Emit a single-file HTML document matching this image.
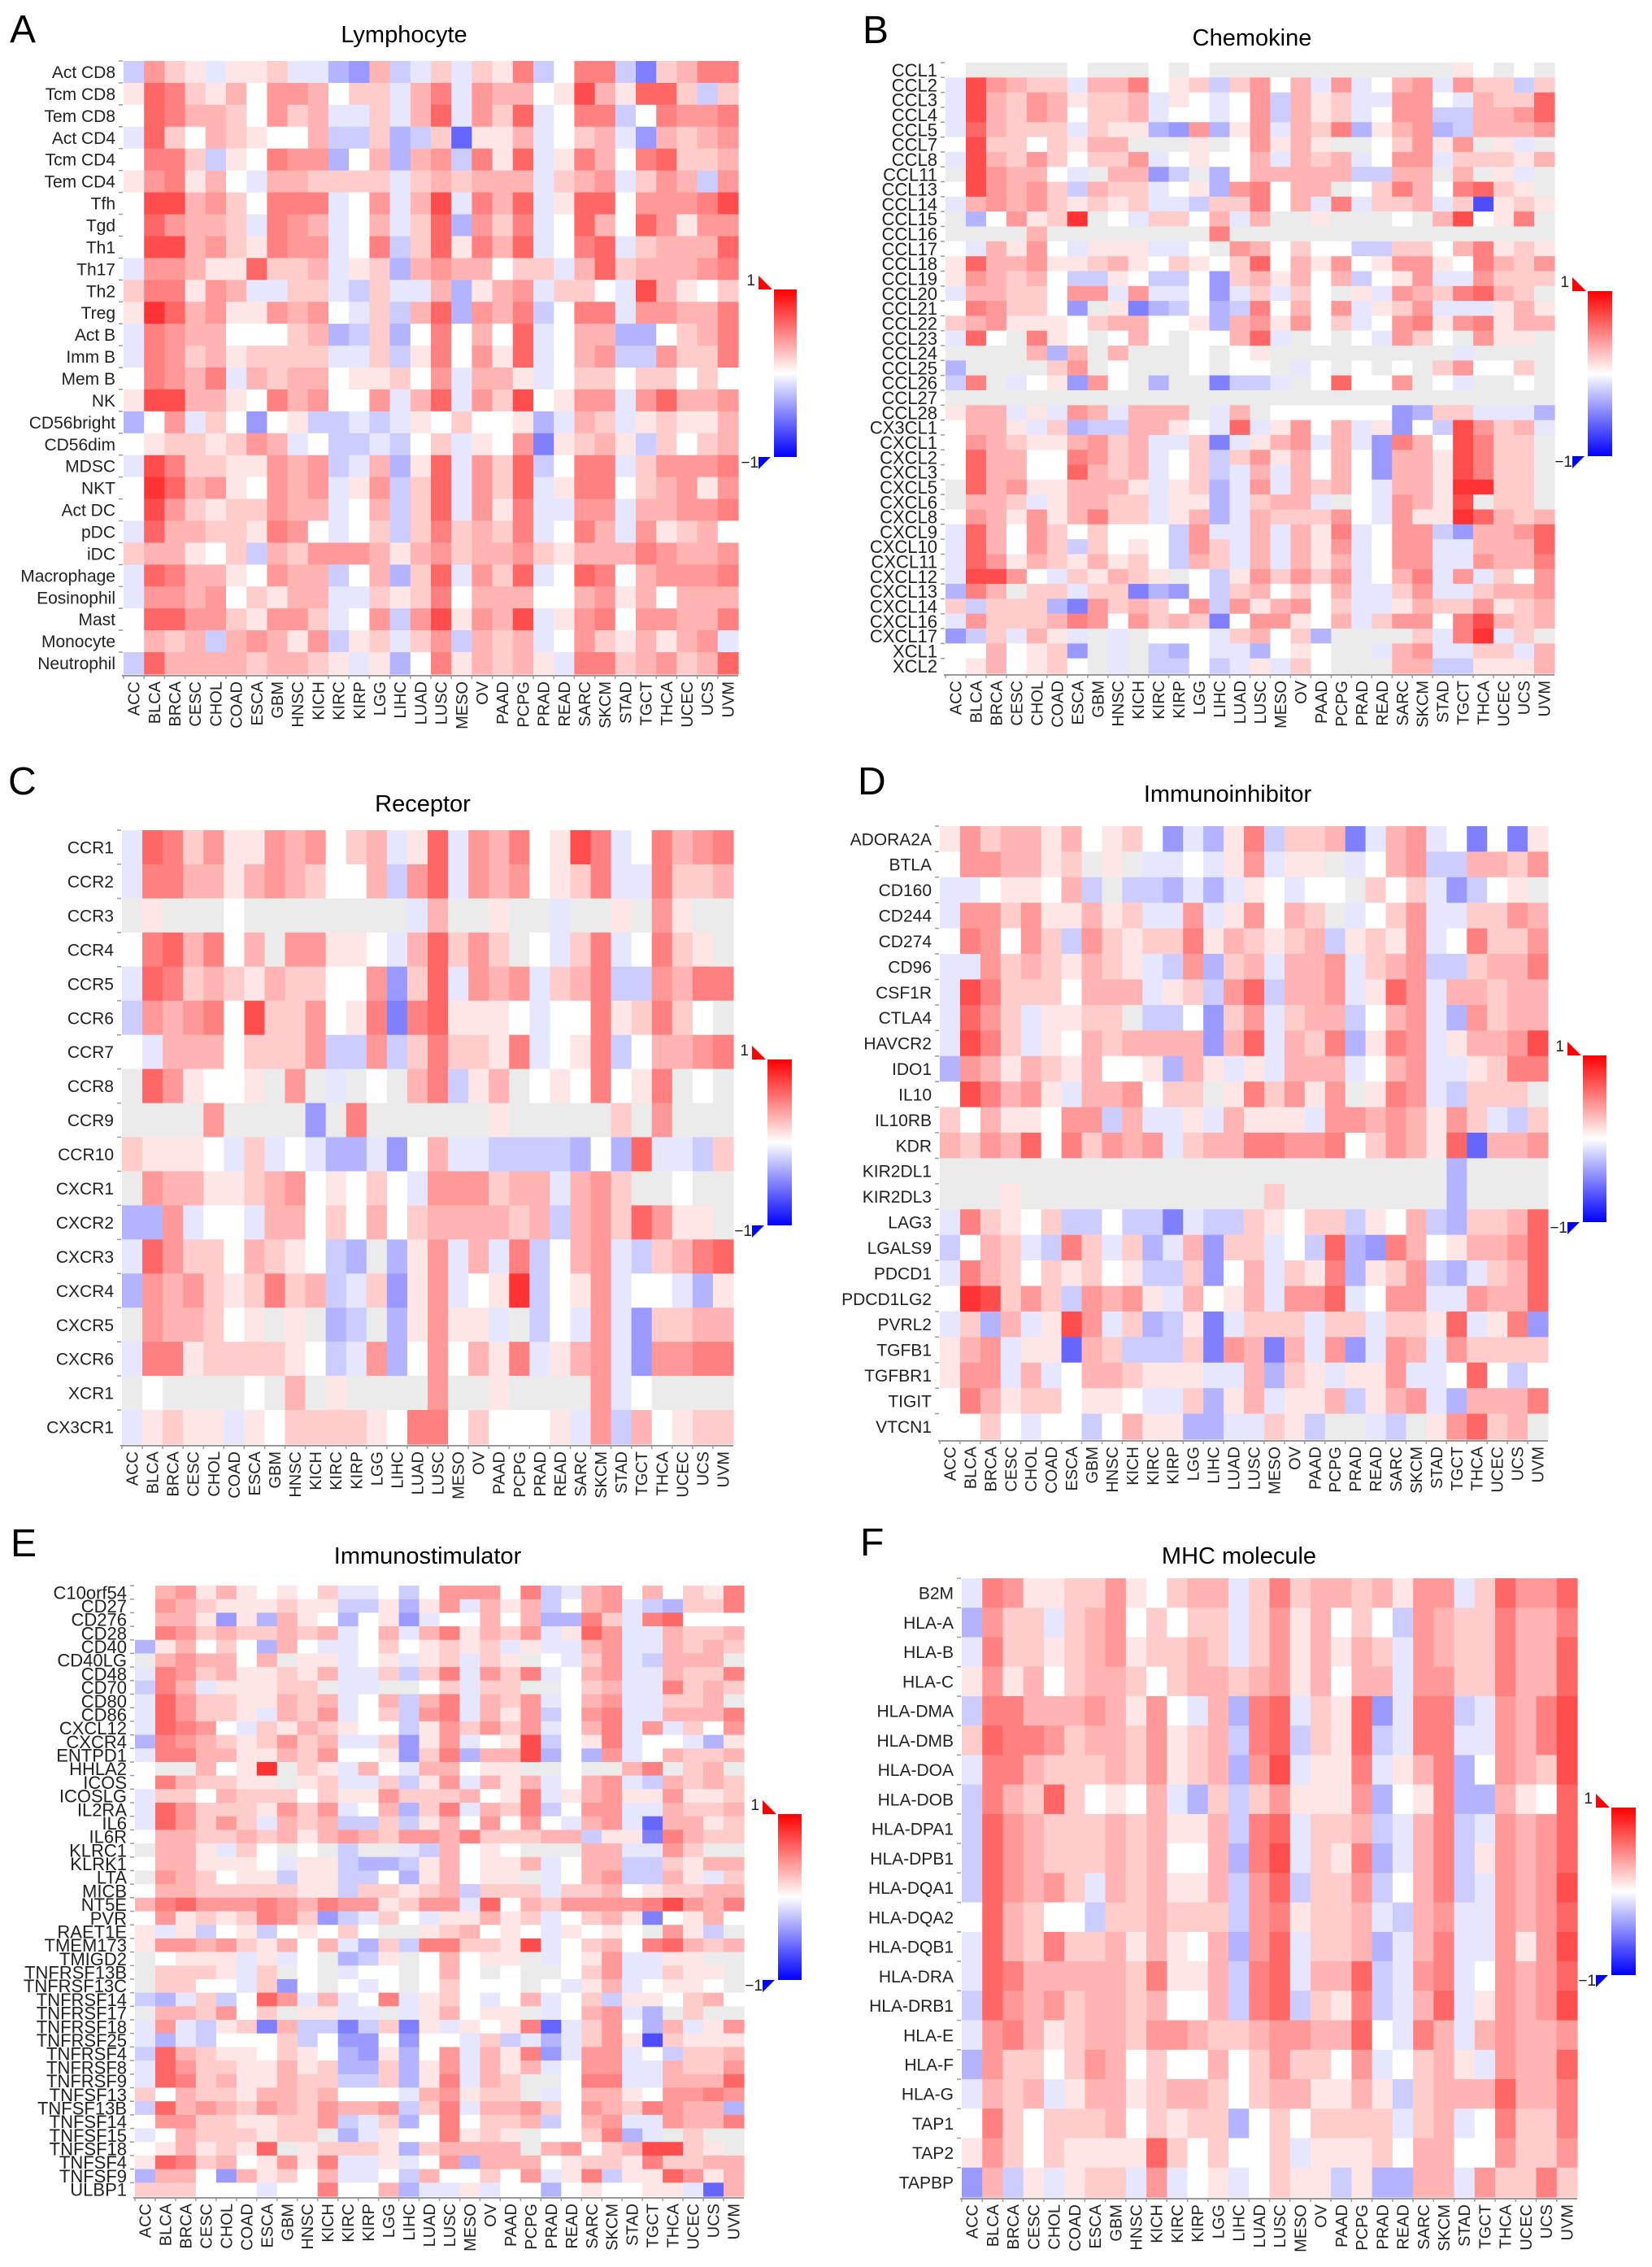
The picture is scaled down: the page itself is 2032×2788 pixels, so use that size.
<!DOCTYPE html>
<html><head><meta charset="utf-8"><title>Immune heatmaps</title>
<style>
html,body{margin:0;padding:0;background:#fff;}
svg{display:block;font-family:"Liberation Sans",Arial,sans-serif;}
</style></head>
<body>
<svg id="fig" width="2032" height="2788" viewBox="0 0 2032 2788" xmlns="http://www.w3.org/2000/svg">
<defs>
<linearGradient id="cbgrad" x1="0" y1="0" x2="0" y2="1">
<stop offset="0" stop-color="#ff0000"/><stop offset="0.5" stop-color="#ffffff"/><stop offset="1" stop-color="#0000ff"/>
</linearGradient>
</defs>
<text x="12" y="52" font-size="48">A</text>
<text x="1061" y="53" font-size="48">B</text>
<text x="10" y="977" font-size="48">C</text>
<text x="1055" y="977" font-size="48">D</text>
<text x="13" y="1914" font-size="48">E</text>
<text x="1058" y="1913" font-size="48">F</text>
<text x="497" y="52" font-size="29" text-anchor="middle">Lymphocyte</text>
<text x="1540" y="56" font-size="29" text-anchor="middle">Chemokine</text>
<text x="520" y="998" font-size="29" text-anchor="middle">Receptor</text>
<text x="1510" y="986" font-size="29" text-anchor="middle">Immunoinhibitor</text>
<text x="526" y="1923" font-size="29" text-anchor="middle">Immunostimulator</text>
<text x="1524" y="1923" font-size="29" text-anchor="middle">MHC molecule</text>
</svg>
<script>
const N = null;
const cancers = ["ACC","BLCA","BRCA","CESC","CHOL","COAD","ESCA","GBM","HNSC","KICH","KIRC","KIRP","LGG","LIHC","LUAD","LUSC","MESO","OV","PAAD","PCPG","PRAD","READ","SARC","SKCM","STAD","TGCT","THCA","UCEC","UCS","UVM"];

const rowsA = ["Act CD8","Tcm CD8","Tem CD8","Act CD4","Tcm CD4","Tem CD4","Tfh","Tgd","Th1","Th17","Th2","Treg","Act B","Imm B","Mem B","NK","CD56bright","CD56dim","MDSC","NKT","Act DC","pDC","iDC","Macrophage","Eosinophil","Mast","Monocyte","Neutrophil"];
const valsA = [
[-2,4,2,1,-1,1,1,2,-1,-1,-3,-4,3,-2,-1,2,-1,2,1,5,-2,0,5,5,-2,-5,2,3,5,5],
[1,6,5,2,1,3,0,4,4,3,0,2,2,-1,3,5,-1,4,3,3,0,1,7,3,1,6,6,2,-2,2],
[0,6,5,3,3,2,0,4,2,3,-1,-1,2,-1,3,6,-1,4,2,6,-1,0,5,5,-2,0,5,4,4,5],
[-1,6,2,0,3,2,1,0,0,3,-2,-2,2,-3,-2,2,-6,1,1,3,-1,0,2,3,-1,-4,3,2,3,4],
[0,5,5,2,-2,1,0,5,4,4,-3,0,3,-3,3,4,-2,5,1,6,-1,1,5,3,0,5,6,2,2,3],
[1,4,5,1,3,0,-1,3,3,2,2,2,2,-1,2,3,2,3,3,3,-1,2,3,4,-1,2,4,3,-2,4],
[0,7,7,3,4,2,0,5,5,5,-1,0,4,-1,3,7,-1,5,3,6,-1,1,6,6,0,4,4,4,5,7],
[0,6,4,3,3,2,-1,5,4,3,-1,0,3,-1,2,6,-3,4,2,5,-1,0,6,3,0,6,4,1,4,4],
[0,7,7,3,4,2,1,5,4,4,-1,0,5,-2,2,6,1,5,3,6,-1,0,5,6,-1,2,3,3,3,6],
[-1,4,4,3,1,1,6,2,2,3,-1,1,2,-3,3,4,3,3,0,2,2,-1,3,6,2,3,3,3,4,5],
[2,5,5,1,4,3,-1,-1,2,2,-1,-2,2,-1,-1,3,-3,1,3,4,-1,2,2,0,-1,7,3,1,0,2],
[1,8,6,3,4,1,1,4,3,4,0,-1,2,-2,3,6,-3,4,3,5,-2,0,5,5,-1,4,4,3,3,5],
[-1,5,4,3,3,0,0,0,2,3,-3,-2,2,-3,0,5,0,3,0,6,-1,0,3,3,-3,-3,0,2,3,5],
[-1,5,4,2,3,1,2,2,2,2,-1,-1,2,-2,1,5,0,4,1,6,-1,0,3,4,-2,-2,4,2,2,5],
[0,5,4,3,5,-1,3,2,3,3,0,1,1,2,0,4,-1,3,3,1,-1,0,2,2,0,2,2,0,2,0],
[1,7,7,3,3,1,0,5,3,4,0,0,4,-1,3,6,-1,4,2,7,0,1,4,4,-1,4,6,3,3,4],
[-3,0,4,-1,2,0,-4,0,1,-2,-2,-1,-2,-1,1,0,2,0,0,1,-3,-1,3,2,-1,1,2,1,1,3],
[0,1,2,2,1,2,4,3,-1,0,-2,-2,-1,-2,0,2,-1,1,0,4,-5,1,2,3,1,-2,2,0,2,3],
[-1,7,5,2,2,1,1,4,3,4,-2,-1,3,-3,1,6,-1,4,2,6,-2,0,5,5,-1,2,4,4,4,5],
[0,8,6,3,4,1,0,4,3,4,-1,1,4,-2,2,6,-1,4,2,6,-1,1,5,5,0,2,3,4,1,4],
[0,7,4,2,1,2,2,4,3,3,-1,0,3,-2,2,6,-1,4,1,5,-1,-1,4,4,-1,3,3,4,4,5],
[-1,6,3,3,2,2,1,5,4,0,-1,0,2,-2,2,5,2,3,2,5,-1,0,5,3,-1,4,1,2,3,0],
[2,3,3,1,0,2,-2,3,2,4,4,4,3,1,3,4,2,3,3,4,2,1,3,3,3,5,4,3,3,4],
[-1,6,5,3,3,1,0,4,3,3,-2,0,3,-3,2,6,-1,4,2,6,-1,0,6,5,0,3,4,4,4,5],
[-1,4,4,3,4,0,2,1,3,3,-1,-1,2,1,2,5,0,3,3,3,0,0,3,4,1,3,0,3,3,3],
[0,6,6,4,4,2,1,4,4,2,-1,0,4,-2,4,7,1,4,3,7,-1,1,4,5,0,4,4,3,3,5],
[0,3,2,3,-2,3,4,3,1,4,-2,1,2,-1,2,4,-2,3,2,3,-1,0,4,2,1,3,1,3,4,-1],
[-2,6,3,3,3,3,2,3,3,2,1,-1,1,-3,0,5,1,3,2,3,1,-1,5,5,2,3,4,2,3,6]
];

const rowsB = ["CCL1","CCL2","CCL3","CCL4","CCL5","CCL7","CCL8","CCL11","CCL13","CCL14","CCL15","CCL16","CCL17","CCL18","CCL19","CCL20","CCL21","CCL22","CCL23","CCL24","CCL25","CCL26","CCL27","CCL28","CX3CL1","CXCL1","CXCL2","CXCL3","CXCL5","CXCL6","CXCL8","CXCL9","CXCL10","CXCL11","CXCL12","CXCL13","CXCL14","CXCL16","CXCL17","XCL1","XCL2"];
const valsB = [
[0,N,N,N,N,N,0,N,N,N,0,N,0,N,N,N,N,N,N,N,N,N,N,N,N,1,0,N,0,N],
[-1,7,4,3,2,2,-1,3,3,5,0,1,2,-2,2,4,0,3,-1,4,-1,0,3,4,-1,4,2,2,-2,2],
[-1,7,3,2,4,3,1,2,2,3,-1,1,0,-1,0,4,-2,3,1,2,-1,-1,4,4,0,-1,3,2,2,6],
[-1,7,3,2,4,3,0,2,2,3,-1,0,0,-1,0,4,-2,3,1,2,-1,0,4,4,-2,-2,3,3,4,6],
[-1,6,3,2,2,2,-1,2,1,1,-3,-4,4,-3,1,4,-1,3,2,5,-3,1,3,4,-3,-2,3,3,3,4],
[0,7,2,2,0,2,1,3,3,N,N,N,1,N,0,4,1,3,1,N,N,0,2,4,1,4,N,1,-1,N],
[-1,7,3,2,4,2,0,2,2,4,-1,0,1,0,0,3,-1,3,2,3,-1,0,4,4,-1,2,2,2,1,3],
[N,7,4,3,3,0,-1,N,3,3,-4,-2,N,-3,0,3,3,3,3,3,-2,-2,3,3,N,3,N,1,-1,N],
[0,7,4,3,4,2,-2,3,2,2,-1,0,1,-3,4,5,0,3,3,N,0,2,5,3,0,5,6,2,1,N],
[-1,3,4,3,4,2,1,2,1,2,-1,-1,-2,2,2,5,0,3,-1,5,-1,2,2,3,-1,2,-7,1,2,1],
[N,-3,0,4,1,2,8,N,0,-1,2,2,0,3,-1,3,N,N,1,N,N,N,0,N,3,7,0,1,5,N],
[N,N,N,N,3,N,N,N,N,N,N,N,N,5,N,N,N,N,N,N,N,N,N,N,N,N,N,N,N,N],
[0,-1,3,1,4,0,-1,1,1,1,-1,-1,0,N,4,3,0,2,0,0,-2,-2,2,2,0,3,5,1,2,1],
[1,6,3,3,4,1,1,2,3,1,0,2,1,0,2,6,0,3,1,4,0,1,4,4,1,0,5,3,2,4],
[1,4,3,2,3,0,-2,-2,1,0,-2,-2,0,-4,2,3,1,3,0,3,-2,0,1,4,-1,-1,4,2,2,2],
[-1,3,3,2,2,0,4,4,-1,4,-1,-1,0,-4,-1,2,-1,2,0,N,1,-1,4,3,2,5,6,3,2,N],
[0,5,4,2,2,0,-4,N,1,-5,-3,-2,0,-3,-2,5,0,3,0,4,-1,1,2,4,-1,-1,-1,1,3,1],
[2,3,4,1,1,1,0,2,3,3,0,0,1,-3,3,4,1,4,0,2,-1,0,4,5,1,4,5,1,3,3],
[-1,6,0,N,5,1,0,N,0,3,0,N,0,0,3,6,-1,N,0,N,0,-1,4,2,0,N,4,1,1,N],
[N,N,N,N,3,-3,3,N,3,N,N,N,0,N,0,1,N,N,N,N,N,N,N,N,N,-1,N,N,N,N],
[-3,N,N,N,N,2,4,N,0,N,N,N,0,N,0,0,N,-1,0,N,0,N,0,N,2,4,0,0,2,N],
[-2,5,N,-1,0,1,-4,4,0,N,-3,N,N,-5,-2,-2,-1,N,0,6,0,0,4,N,0,-1,N,N,0,N],
[N,N,N,N,N,N,N,N,N,N,N,N,N,N,N,N,N,N,N,N,N,N,N,N,N,N,N,N,N,N],
[1,3,3,-1,1,-1,4,3,-1,3,3,3,N,-1,3,N,0,0,0,0,0,0,-4,-3,2,2,-1,-1,-1,-3],
[0,3,3,1,-1,2,-3,-2,-2,3,3,1,0,-1,6,-1,1,4,0,3,-1,1,-4,0,-2,7,4,2,3,-1],
[0,4,3,2,1,1,3,4,2,3,-1,-1,2,-5,-1,1,3,4,-1,3,-1,-4,5,3,0,7,5,2,2,N],
[0,6,3,3,0,0,5,4,2,3,-1,0,2,-2,2,4,1,3,0,3,0,-4,3,3,1,7,5,2,2,N],
[0,6,3,3,0,0,6,3,2,3,-1,0,2,-2,-1,3,-1,3,0,3,0,-4,3,3,1,7,5,2,2,N],
[N,6,3,4,1,1,3,3,3,1,-1,1,2,-3,-1,4,-1,3,2,3,0,-1,3,3,1,8,8,2,2,N],
[N,3,3,2,-1,1,3,3,2,2,-1,1,1,-3,-1,2,3,3,-1,N,0,-1,4,3,1,7,N,2,2,N],
[0,4,3,1,4,1,3,5,2,2,-1,1,3,-3,-1,3,2,2,2,4,0,-1,4,1,1,8,6,3,2,3],
[-1,6,3,0,4,2,0,2,0,0,0,-2,4,-1,-1,3,-1,3,1,5,-1,0,4,4,-2,-4,3,3,4,6],
[-1,6,3,0,4,2,-2,2,0,1,0,-2,4,2,-1,3,-1,3,1,4,-1,0,4,4,-1,-1,3,3,3,6],
[-1,6,4,1,3,2,1,3,1,2,0,-2,3,2,-1,3,-1,3,1,3,-1,0,4,4,-1,-1,4,3,3,5],
[-1,7,7,4,0,-1,2,1,3,2,1,N,0,-2,1,4,2,4,2,4,-1,0,3,5,-1,4,-1,2,0,4],
[-3,5,3,N,2,2,-1,2,2,-5,-3,-4,0,-2,2,3,0,2,0,3,-1,-1,2,4,-1,-1,2,3,3,4],
[2,-2,2,2,2,-3,-5,4,2,3,2,0,4,-2,4,1,3,4,0,2,-1,-1,1,3,2,2,4,1,2,3],
[-1,4,2,2,2,3,5,4,0,4,2,3,2,-5,0,4,4,1,0,3,-1,2,4,4,0,5,7,3,2,3],
[-4,-2,2,-1,3,1,-1,N,-1,N,0,0,0,-1,2,3,0,2,-3,N,N,N,N,2,-1,5,8,-1,2,N],
[0,0,3,0,1,2,-4,N,-1,N,-2,-3,0,-1,-1,-3,0,1,0,N,N,-1,3,4,-1,-1,2,2,-1,3],
[0,1,3,0,1,2,0,N,-1,N,-2,-2,0,-2,-1,1,-1,2,0,N,N,N,3,3,-2,-2,1,1,1,3]
];

const rowsC = ["CCR1","CCR2","CCR3","CCR4","CCR5","CCR6","CCR7","CCR8","CCR9","CCR10","CXCR1","CXCR2","CXCR3","CXCR4","CXCR5","CXCR6","XCR1","CX3CR1"];
const valsC = [
[-1,6,5,2,4,1,1,4,3,4,0,2,3,-1,1,6,-1,4,3,5,0,1,7,5,-1,0,5,3,4,5],
[-1,5,5,3,3,1,3,4,3,2,0,0,3,-2,4,6,-1,4,3,4,0,1,2,5,-1,-1,5,2,2,3],
[N,1,N,N,N,0,N,N,N,N,N,N,N,N,-1,3,N,N,1,N,N,-1,N,N,1,N,4,1,N,N],
[0,5,6,3,5,0,3,N,4,4,1,1,0,-1,3,6,2,4,2,N,0,-1,2,5,-1,0,5,2,1,N],
[-1,6,5,2,3,2,1,3,2,2,0,0,4,-4,2,6,-1,4,3,4,-1,2,3,5,-2,-2,4,3,5,5],
[-2,4,3,4,5,0,7,2,2,4,0,1,5,-5,5,6,1,1,1,0,-1,0,0,5,1,2,5,2,0,N],
[0,-1,3,3,3,0,2,2,2,4,-2,-2,4,-2,2,5,2,2,1,5,-1,0,1,5,-2,0,3,3,4,5],
[N,6,4,1,0,0,1,N,4,N,-1,N,0,N,3,5,-2,1,3,N,0,1,0,5,0,1,5,N,0,N],
[N,N,N,N,4,N,N,N,N,-4,N,5,N,N,N,N,N,N,1,N,N,N,N,N,2,N,4,N,N,N],
[2,1,1,1,0,-1,2,-1,0,-1,-3,-3,-1,-4,0,3,-1,-1,-2,-2,-2,-2,-3,0,-3,6,-1,-1,-2,2],
[N,4,3,3,1,1,2,3,4,0,1,0,2,0,-1,4,4,4,2,3,3,-1,3,4,2,N,N,0,N,N],
[-3,-3,4,-1,0,0,-1,3,3,0,2,0,3,0,2,3,3,3,3,2,3,-2,3,4,2,6,4,1,1,N],
[-1,6,4,2,2,0,3,2,1,0,-2,-3,N,-3,1,4,-1,3,-1,5,-2,0,3,4,-1,-2,2,3,5,6],
[-3,4,3,4,2,1,2,5,2,3,-2,-1,2,-4,1,4,-1,0,1,8,-2,0,1,4,-1,0,0,-1,-3,1],
[N,4,3,3,2,0,1,N,1,N,-3,-2,N,-3,1,4,1,1,-1,N,-2,0,-1,4,-1,-4,2,2,3,3],
[-1,5,5,1,2,2,2,2,1,0,-2,-1,4,-3,0,4,0,3,1,5,-1,1,3,4,-1,-4,4,4,5,5],
[N,0,N,N,N,N,0,N,3,N,1,N,N,N,N,4,N,N,1,N,N,N,N,4,-1,0,N,N,N,N],
[-1,1,2,1,1,-1,1,0,2,2,2,2,1,0,5,5,0,2,0,0,0,1,-1,4,-2,3,0,1,2,2]
];

const rowsD = ["ADORA2A","BTLA","CD160","CD244","CD274","CD96","CSF1R","CTLA4","HAVCR2","IDO1","IL10","IL10RB","KDR","KIR2DL1","KIR2DL3","LAG3","LGALS9","PDCD1","PDCD1LG2","PVRL2","TGFB1","TGFBR1","TIGIT","VTCN1"];
const valsD = [
[1,4,2,3,3,1,3,0,1,2,0,-4,-1,-3,1,5,-2,2,2,3,-5,-1,3,4,-1,0,-5,0,-5,1],
[0,4,4,3,3,1,2,N,1,N,-1,-1,0,-1,1,4,-1,1,1,N,-1,0,3,4,-2,-2,3,3,2,4],
[-1,-1,0,1,1,0,3,-2,N,-2,-2,-3,-1,-3,-1,1,0,-1,0,0,N,2,0,2,-1,-4,-2,0,1,N],
[-1,4,4,2,4,1,1,3,1,2,-1,-1,4,-1,1,4,0,3,2,N,-1,0,2,4,-1,-1,2,2,4,3],
[0,5,4,0,4,2,-2,4,2,1,2,2,5,1,3,2,1,2,3,-2,1,2,1,4,-1,0,5,2,2,4],
[-1,-1,4,2,3,2,1,3,2,1,-1,-2,4,-3,2,3,-1,3,3,4,-1,2,3,4,-2,-2,2,3,3,5],
[-1,7,5,2,2,2,0,3,3,3,-1,1,2,-2,4,6,-2,3,3,4,-1,1,6,4,-1,3,3,2,3,3],
[-1,6,4,2,-1,1,1,2,2,N,-2,-2,0,-4,2,4,-1,2,3,3,-2,0,3,4,-1,-3,4,2,3,3],
[-1,7,5,2,-1,1,0,3,2,3,3,3,3,-4,3,6,-1,3,2,5,-3,1,5,4,-1,1,3,3,4,7],
[-3,4,3,1,3,2,1,3,0,0,1,-3,3,1,-1,1,-1,3,3,3,-1,0,3,4,-1,-1,1,2,5,5],
[0,7,5,3,4,1,-1,3,3,4,0,2,2,N,1,5,2,4,1,4,N,1,5,4,-1,-2,2,2,2,N],
[2,0,3,1,1,0,4,4,-2,3,-1,-1,1,-1,3,1,1,1,-1,4,4,3,4,3,1,4,2,-1,-2,2],
[3,2,4,3,6,0,5,2,4,3,4,-1,2,3,3,5,5,4,4,5,0,2,4,3,1,6,-6,3,3,4],
[N,N,N,N,N,N,N,N,N,N,N,N,N,N,N,N,N,N,N,N,N,N,N,N,N,-3,N,N,N,N],
[N,N,N,1,N,N,N,N,N,N,N,N,N,N,N,N,2,N,N,N,N,N,N,N,N,-3,N,N,N,N],
[-1,5,2,1,0,2,-2,-2,0,-2,-2,-5,-1,-2,-2,2,1,0,2,2,-2,1,0,3,-2,-3,2,2,3,6],
[-2,0,3,2,-1,-2,5,2,-1,2,-3,-1,3,-4,2,2,-1,0,-2,6,-3,-4,5,3,0,1,3,3,4,6],
[-1,5,3,2,0,2,1,2,0,1,-2,-2,2,-4,0,3,-1,2,1,5,-3,1,2,4,-2,-3,-1,2,3,6],
[0,8,7,2,4,2,-2,4,3,4,1,-1,3,0,1,3,-1,4,4,6,-1,0,4,4,-1,-1,4,3,3,6],
[-1,2,-3,3,-1,1,7,4,-1,2,-3,-2,1,-5,-1,2,2,2,-1,2,2,-1,2,2,1,6,-1,1,5,-4],
[1,3,4,-1,1,1,-6,3,2,-2,-2,-2,2,-5,4,3,-5,3,-1,4,-4,-1,4,3,-1,4,2,2,2,2],
[1,4,4,-1,3,-1,0,3,3,2,1,1,1,-1,-1,3,-3,2,1,-1,1,1,4,-1,-1,0,6,0,-2,0],
[0,5,3,1,2,2,0,1,1,0,-1,-1,2,-3,1,3,-1,1,1,3,-2,1,3,4,-1,-3,3,3,3,5],
[0,0,2,0,-1,0,0,-2,0,3,1,1,-3,-3,-1,-1,2,1,-2,N,N,-1,-2,N,1,4,6,2,3,N]
];

const rowsE = ["C10orf54","CD27","CD276","CD28","CD40","CD40LG","CD48","CD70","CD80","CD86","CXCL12","CXCR4","ENTPD1","HHLA2","ICOS","ICOSLG","IL2RA","IL6","IL6R","KLRC1","KLRK1","LTA","MICB","NT5E","PVR","RAET1E","TMEM173","TMIGD2","TNFRSF13B","TNFRSF13C","TNFRSF14","TNFRSF17","TNFRSF18","TNFRSF25","TNFRSF4","TNFRSF8","TNFRSF9","TNFSF13","TNFSF13B","TNFSF14","TNFSF15","TNFSF18","TNFSF4","TNFSF9","ULBP1"];
const valsE = [
[0,3,4,1,3,1,0,1,0,2,-1,-1,0,-2,0,4,4,4,0,5,-2,-1,3,4,0,3,0,2,1,5],
[0,4,3,2,1,1,1,2,1,1,-2,-2,1,-3,1,4,-1,3,1,3,-2,0,3,4,-1,-2,-3,2,2,5],
[0,3,3,1,-4,1,-3,3,1,0,-3,0,1,-4,-1,0,0,3,0,3,-3,-3,5,2,-1,5,6,0,0,0],
[0,5,4,2,3,2,2,3,2,3,-1,0,3,-1,3,5,1,3,2,4,-1,1,6,4,-1,-1,3,2,2,3],
[-3,1,3,0,2,0,-3,3,0,-1,-1,0,2,0,1,2,1,2,-1,1,-1,-1,3,4,-1,-1,3,2,3,2],
[N,3,4,3,3,0,3,N,1,1,-1,0,1,-1,1,2,-1,2,1,N,0,-1,2,4,-1,-2,3,3,3,N],
[-1,5,4,2,3,1,1,2,1,3,-1,-1,2,-2,2,5,-1,4,2,5,-1,0,3,4,-1,-1,3,2,2,5],
[-2,5,3,-1,1,1,1,2,2,N,-1,-1,N,N,0,2,-1,2,2,N,N,0,2,3,-1,-1,5,2,3,2],
[-1,6,4,2,2,1,1,3,2,3,-1,0,3,-2,3,5,-1,3,2,4,-1,0,3,4,-1,-1,2,2,3,N],
[-1,6,4,2,2,1,-1,3,2,4,-1,0,2,-2,4,5,-1,3,1,4,-2,0,4,5,-1,-1,3,3,3,5],
[-1,6,5,4,0,-1,2,1,3,2,1,0,0,-2,1,4,2,4,2,4,-1,0,3,5,-1,4,-1,2,0,4],
[-3,5,4,3,2,1,2,4,2,3,-1,-1,2,-4,1,4,-1,0,1,7,-2,0,1,5,-1,0,0,-1,-3,1],
[-1,5,5,3,3,1,1,3,2,4,0,0,1,-4,2,5,-3,3,3,7,-3,0,-3,4,-1,0,3,2,2,3],
[0,N,N,3,0,1,8,N,2,1,-1,3,0,-1,3,3,0,1,1,N,N,0,N,N,3,5,N,2,3,N],
[0,5,3,2,2,1,1,N,1,2,-1,-1,2,-2,1,4,-1,3,1,3,-1,0,3,4,-1,-2,3,2,3,2],
[-1,2,2,0,3,2,2,2,0,2,1,1,4,2,2,2,3,0,1,5,-1,1,3,4,1,1,4,1,1,2],
[-1,6,4,2,2,2,1,4,2,4,-1,0,3,-3,2,5,-1,3,2,5,-2,0,4,4,-1,-1,3,2,2,3],
[-1,6,4,2,4,2,-1,3,2,3,-2,-2,2,-2,1,3,0,4,0,4,0,-1,3,4,-1,-6,3,3,1,2],
[0,3,3,2,2,3,2,3,1,3,4,3,2,4,4,3,5,2,2,2,3,3,-2,1,1,-5,5,3,2,2],
[N,3,3,1,-1,2,0,N,0,N,-2,N,N,-1,-2,3,0,1,0,N,N,N,3,3,-1,-1,4,2,N,N],
[0,3,3,1,1,1,0,-1,1,1,-2,-3,-3,-2,1,3,0,1,1,3,-1,0,3,3,-2,-2,2,1,3,3],
[N,4,3,2,0,1,1,-2,1,1,-2,-2,0,-3,1,3,0,1,1,N,-1,0,3,4,-2,-2,3,1,-1,2],
[0,3,3,2,2,2,2,2,1,1,-2,2,2,1,2,3,-2,2,2,2,-1,2,2,3,0,1,2,2,3,3],
[3,5,6,4,4,4,5,4,3,5,4,4,1,2,4,4,-1,6,0,3,2,4,4,4,4,5,7,4,3,5],
[0,4,1,2,1,2,5,4,2,-4,-2,-1,2,0,-1,1,1,3,1,2,-1,0,2,3,1,-5,0,1,3,0],
[1,-1,1,-2,0,1,-2,0,1,0,2,0,N,N,1,2,3,0,1,0,-1,1,0,1,0,N,4,1,-2,N],
[1,4,4,3,4,2,1,3,0,3,-1,-3,2,-2,5,5,2,2,1,7,-1,0,2,3,0,5,6,3,2,3],
[N,0,1,1,1,-1,1,-1,0,N,-3,-2,1,N,0,3,0,1,1,N,-1,0,1,4,-1,-1,1,1,N,N],
[N,2,2,2,1,-1,2,N,0,N,-1,0,0,N,0,3,0,N,0,N,N,0,2,4,-1,-1,2,1,1,N],
[N,2,2,0,0,-1,2,-4,0,N,0,-1,0,N,0,2,0,0,0,N,0,-1,1,3,-1,0,1,1,0,N],
[-2,-3,-1,2,-2,0,6,4,-1,3,-1,0,5,-1,1,2,0,-1,0,3,-1,0,2,-2,1,1,0,2,3,0],
[N,3,3,2,4,0,2,N,1,1,-1,-1,N,-1,1,3,0,1,1,N,-1,0,3,4,-1,-3,N,2,N,N],
[-1,4,-1,-2,1,2,-5,3,-2,-2,-5,-2,2,-5,1,-1,1,0,1,5,-6,-1,2,4,0,-3,3,-1,1,4],
[-1,-3,-1,-2,0,0,0,2,-2,0,-4,-4,0,-4,0,0,-1,2,-2,-1,-3,-1,2,4,1,-7,2,1,1,1],
[-2,6,3,2,1,1,0,2,1,0,-3,-4,1,-3,0,4,-1,3,1,5,-4,-1,4,4,-1,0,-2,2,2,3],
[-1,6,4,2,2,1,1,3,1,2,-3,-3,2,-3,1,4,-1,3,1,3,-1,0,4,4,-1,-1,3,2,2,4],
[-1,6,5,2,3,1,1,3,2,2,-2,-2,2,-3,1,5,-1,3,2,N,N,0,5,5,-1,-1,3,3,3,6],
[2,0,3,2,2,1,3,3,2,3,0,0,0,-1,3,4,1,2,2,N,-1,0,3,3,1,0,4,4,5,4],
[-2,6,3,4,3,2,4,3,2,4,3,3,4,-2,2,5,-1,3,3,4,2,0,4,3,2,5,4,3,3,-3],
[0,4,4,2,2,1,1,2,2,4,-2,-1,2,-3,0,5,0,2,2,3,-2,0,3,4,-1,-1,4,3,3,5],
[-1,0,3,2,2,2,1,2,2,N,-3,-1,1,0,0,5,1,2,1,N,0,0,2,5,-3,-1,N,2,N,N],
[0,1,3,1,2,1,6,N,1,2,2,2,1,-3,2,3,3,3,3,N,3,4,0,2,3,7,7,2,1,N],
[1,6,5,2,3,0,1,4,1,5,-1,-1,1,-1,0,4,-3,3,3,3,0,1,2,2,1,5,2,2,3,3],
[-3,3,3,0,-4,3,1,2,0,3,-1,-1,0,-2,3,0,0,2,0,4,-1,1,5,-2,1,1,6,4,1,3],
[2,2,2,0,0,0,-1,0,0,5,0,0,3,-3,-1,-1,1,-1,0,0,-3,0,1,0,0,1,1,-1,-6,3]
];

const rowsF = ["B2M","HLA-A","HLA-B","HLA-C","HLA-DMA","HLA-DMB","HLA-DOA","HLA-DOB","HLA-DPA1","HLA-DPB1","HLA-DQA1","HLA-DQA2","HLA-DQB1","HLA-DRA","HLA-DRB1","HLA-E","HLA-F","HLA-G","TAP1","TAP2","TAPBP"];
const valsF = [
[-1,5,4,1,1,2,2,4,1,0,2,3,3,-1,2,5,2,3,3,2,3,1,4,4,-1,2,6,4,4,6],
[-3,4,2,2,-1,2,3,4,0,2,0,2,2,-1,2,4,1,3,0,2,0,-2,4,3,2,2,5,3,3,5],
[-1,5,2,2,1,2,3,4,1,2,2,3,2,-1,2,4,1,3,1,3,2,-1,4,3,2,2,5,3,3,6],
[1,4,1,3,0,2,3,3,2,0,2,3,3,2,3,4,1,3,0,3,3,-1,4,4,2,2,5,3,3,6],
[-2,5,5,3,3,3,4,3,1,4,0,-1,3,-3,5,6,-1,2,1,6,-4,-1,5,5,-2,-1,4,3,5,7],
[2,6,5,5,4,2,3,3,2,4,1,2,3,-2,5,6,-2,2,1,6,-2,-1,5,5,-1,-1,4,3,5,7],
[-1,5,5,3,2,2,2,3,2,4,1,2,3,-3,4,7,-1,1,1,5,-1,1,3,5,-3,0,4,3,2,7],
[-2,5,3,2,6,2,0,1,0,3,-1,-3,2,-2,2,4,1,1,1,4,-3,0,1,5,-3,-3,3,1,0,6],
[-2,6,4,3,2,2,2,3,2,3,1,1,3,-2,5,6,-1,2,2,3,-2,-1,3,5,-2,-1,4,3,4,6],
[-2,6,4,3,2,2,2,3,2,3,0,0,3,-3,5,7,-1,2,1,5,-3,-1,3,5,-2,1,4,3,4,6],
[-2,6,4,3,4,2,-1,3,2,3,1,1,3,-2,4,6,-2,2,2,4,-2,0,3,5,-2,-1,4,3,4,7],
[0,6,3,2,0,0,-2,2,2,3,2,2,2,-2,4,5,1,2,2,3,-1,-2,3,4,-1,-1,4,3,4,6],
[-1,6,3,2,5,2,2,3,1,3,1,0,3,-3,4,6,-1,2,2,3,-3,-1,3,5,-1,-1,4,1,4,7],
[-1,6,5,3,3,3,3,3,2,5,1,1,3,-2,5,6,-1,3,3,6,-2,-1,4,5,-1,0,4,3,4,6],
[-2,6,4,3,4,2,3,3,2,3,0,0,3,-2,5,6,-2,2,1,5,-2,-1,3,6,-1,1,4,3,4,7],
[-1,4,5,3,1,2,3,3,2,4,4,3,2,2,3,4,4,3,3,6,0,-1,5,3,-1,3,4,3,3,4],
[-3,4,2,2,0,2,4,3,0,2,0,0,3,0,2,4,2,2,0,4,-1,0,2,3,1,-1,4,3,3,6],
[-1,3,2,3,-1,1,3,3,1,2,3,3,2,0,2,3,3,1,1,3,1,-2,2,3,3,3,6,3,3,5],
[0,5,2,0,2,2,2,3,0,2,1,2,2,-3,0,2,0,2,2,2,2,-1,2,3,-1,0,5,2,2,5],
[1,4,2,0,2,1,1,1,1,6,2,0,2,0,0,2,-1,1,1,1,2,0,3,3,0,0,4,2,2,4],
[-4,3,-2,1,-1,1,2,2,-1,4,-1,0,1,-1,0,2,1,1,-2,1,-3,-3,3,3,-1,4,2,2,5,2]
];

const layout = {
  A:{x0:152,x1:908,y0:75,y1:829,fs:21,cb:[952,980,356,562]},
  B:{x0:1163,x1:1912,y0:77,y1:828,fs:22,cb:[1953,1983,358,561]},
  C:{x0:150,x1:902,y0:1021,y1:1776,fs:21,cb:[944,974,1303,1507]},
  D:{x0:1156,x1:1904,y0:1016,y1:1770,fs:21,cb:[1947,1976,1298,1503]},
  E:{x0:166,x1:915,y0:1950,y1:2701,fs:22,cb:[957,986,2231,2435]},
  F:{x0:1183,x1:1940,y0:1941,y1:2702,fs:21,cb:[1982,2012,2223,2429]}
};

const SVGNS = "http://www.w3.org/2000/svg";
const svg = document.getElementById("fig");
function mk(tag, attrs){
  const e = document.createElementNS(SVGNS, tag);
  for (const k in attrs) e.setAttribute(k, attrs[k]);
  return e;
}
function colorOf(v){
  if (v === null || v === undefined) return "#ebebeb";
  let t = Math.max(-1, Math.min(1, v/10));
  if (t >= 0){ const c = Math.round(255*(1-t)); return "rgb(255,"+c+","+c+")"; }
  const c = Math.round(255*(1+t)); return "rgb("+c+","+c+",255)";
}
function drawPanel(key, rows, vals){
  const L = layout[key];
  const g = mk("g", {});
  
  
  svg.appendChild(g);
  const nc = cancers.length, nr = rows.length;
  const xs = i => L.x0 + (L.x1 - L.x0) * i / nc;
  const ys = j => L.y0 + (L.y1 - L.y0) * j / nr;
  for (let j = 0; j < nr; j++){
    for (let i = 0; i < nc; i++){
      const r = mk("rect", {x: xs(i).toFixed(2), y: ys(j).toFixed(2), width: (xs(i+1)-xs(i)+0.6).toFixed(2), height: (ys(j+1)-ys(j)+0.6).toFixed(2), fill: colorOf(vals[j][i])});
      
      
      g.appendChild(r);
    }
    const t = mk("text", {x: L.x0 - 10, y: ((ys(j)+ys(j+1))/2 + L.fs*0.36).toFixed(1), "font-size": L.fs, "text-anchor": "end", fill: "#222"});
    t.textContent = rows[j];
    
    
    g.appendChild(t);
    const tk = mk("line", {x1: L.x0 - 6, x2: L.x0 - 1, y1: ys(j).toFixed(1), y2: ys(j).toFixed(1), stroke: "#999", "stroke-width": 1.5});
    
    
    g.appendChild(tk);
  }
  const ax = mk("line", {x1: L.x0 - 2, x2: L.x1, y1: L.y1 + 2, y2: L.y1 + 2, stroke: "#999", "stroke-width": 2});
  
  
  g.appendChild(ax);
  for (let i = 0; i < nc; i++){
    const cx = (xs(i)+xs(i+1))/2;
    const tk = mk("line", {x1: xs(i).toFixed(1), x2: xs(i).toFixed(1), y1: L.y1 + 2, y2: L.y1 + 6, stroke: "#999", "stroke-width": 1.5});
    
    
    g.appendChild(tk);
    const t = mk("text", {transform: "translate(" + (cx + 7).toFixed(1) + "," + (L.y1 + 9) + ") rotate(-90)", "font-size": 20, "text-anchor": "end", fill: "#222"});
    t.textContent = cancers[i];
    
    
    g.appendChild(t);
  }
  const [bx0, bx1, by0, by1] = L.cb;
  const bar = mk("rect", {x: bx0, y: by0, width: bx1 - bx0, height: by1 - by0, fill: "url(#cbgrad)"});
  
  
  g.appendChild(bar);
  const tr = mk("polygon", {points: (bx0-19)+","+(by0-17)+" "+(bx0-2)+","+by0+" "+(bx0-19)+","+by0, fill: "#ff0000"});
  
  
  g.appendChild(tr);
  const tb = mk("polygon", {points: (bx0-19)+","+by1+" "+(bx0-4)+","+by1+" "+(bx0-19)+","+(by1+15), fill: "#0000ff"});
  
  
  g.appendChild(tb);
  const l1 = mk("text", {x: bx0 - 23, y: by0 - 5, "font-size": 19, "text-anchor": "end", fill: "#222"});
  l1.textContent = "1";
  
  
  g.appendChild(l1);
  const l2 = mk("text", {x: bx0 - 19, y: by1 + 13, "font-size": 19, "text-anchor": "end", fill: "#222"});
  l2.textContent = "\u22121";
  
  
  g.appendChild(l2);
}
drawPanel("A", rowsA, valsA);
drawPanel("B", rowsB, valsB);
drawPanel("C", rowsC, valsC);
drawPanel("D", rowsD, valsD);
drawPanel("E", rowsE, valsE);
drawPanel("F", rowsF, valsF);
</script>
</body></html>
